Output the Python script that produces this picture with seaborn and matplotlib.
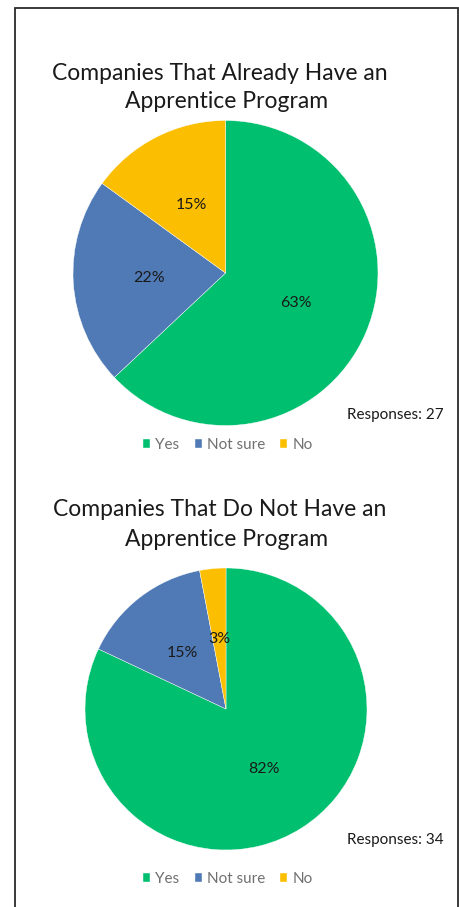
import matplotlib
matplotlib.use("Agg")
import matplotlib.pyplot as plt
from matplotlib.patches import Rectangle
import seaborn as sns

categories = ["Yes", "Not sure", "No"]
have_pct = [63, 22, 15]
nothave_pct = [82, 15, 3]
have_responses = 27
nothave_responses = 34
titles = ["Companies That Already Have an\nApprentice Program",
          "Companies That Do Not Have an\nApprentice Program"]
colors = ["#00C070", "#4F7AB5", "#FBBE00"]

sns.set_theme(style="white")
plt.rcParams["font.family"] = ["Lato", "DejaVu Sans"]

W, H = 460, 907
fig = plt.figure(figsize=(W / 100, H / 100), dpi=100)
fig.patch.set_facecolor("white")

# border
fig.patches.append(Rectangle((15 / W, -0.02), (458 - 15) / W, 1.02 - 8 / H,
                             transform=fig.transFigure, fill=False,
                             edgecolor="#2b2b2b", linewidth=1.3, clip_on=False))


def draw(values, cx, cy, R, title, ty1, ty2, resp, resp_y, leg_y):
    ax = fig.add_axes([(cx - R) / W, (H - cy - R) / H, 2 * R / W, 2 * R / H])
    wedges, texts, autotexts = ax.pie(
        values, colors=colors, startangle=90, counterclock=False,
        autopct="%.0f%%", pctdistance=0.5,
        wedgeprops=dict(edgecolor="white", linewidth=0.3),
        textprops=dict(color="#1a1a1a", fontsize=11.5))
    ax.set_xlim(-1, 1)
    ax.set_ylim(-1, 1)
    ax.axis("off")
    l1, l2 = title.split("\n")
    fig.text(220 / W, 1 - ty1 / H, l1, ha="center", va="center",
             fontsize=16.5, color="#1a1a1a")
    fig.text(227 / W, 1 - ty2 / H, l2, ha="center", va="center",
             fontsize=16.5, color="#1a1a1a")
    fig.text(444 / W, 1 - resp_y / H, f"Responses: {resp}", ha="right",
             va="center", fontsize=11, color="#1a1a1a")
    leg = fig.legend(wedges, categories, loc="center",
                     bbox_to_anchor=(228 / W, 1 - leg_y / H), ncol=3,
                     frameon=False, fontsize=11, handlelength=0.45,
                     handleheight=0.45, handletextpad=0.35, columnspacing=1.0)
    for t in leg.get_texts():
        t.set_color("#707070")


draw(have_pct, 225.5, 273, 152.5, titles[0], 73, 102, have_responses, 415, 445)
draw(nothave_pct, 226, 709, 141, titles[1], 510, 540, nothave_responses, 840, 879)

fig.savefig("out.png", dpi=100, facecolor="white")
